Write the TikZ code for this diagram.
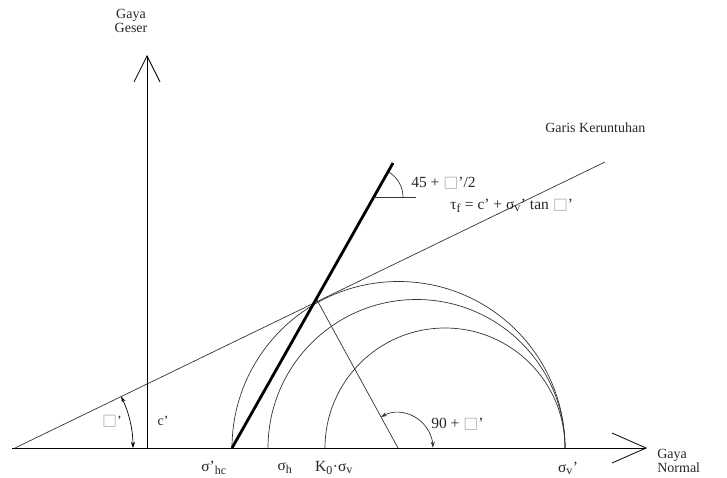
\documentclass[tikz,border=0pt]{standalone}
\usepackage{fontspec}
\setmainfont{Liberation Serif}
\newfontfamily\dvs{DejaVu Sans}
\usetikzlibrary{arrows.meta}
\newcommand{\bx}{{\dvs\color{gray!55}\fontsize{16}{16}\selectfont □}}
\begin{document}
\begin{tikzpicture}[x=1pt,y=-1pt, line width=0.7pt, font=\fontsize{14}{15}\selectfont,
  lbl/.style={inner sep=0pt, text=black!85},
  big/.style={lbl, font=\fontsize{15.5}{16}\selectfont},
  thin/.style={line width=0.7pt, black!80},
  heavy/.style={line width=2.8pt, black},
  ang/.style={line width=0.7pt, {Stealth[length=6pt,width=4pt]}-{Stealth[length=6pt,width=4pt]}}]
\useasboundingbox (0,0) rectangle (727,477);

% axes
\coordinate (O) at (12,448);
\coordinate (Hx) at (647,448);
\coordinate (Vb) at (147,448);
\coordinate (Vt) at (147,55);
\draw[line width=0.8pt, -{Straight Barb[length=34pt,width=30pt,line width=0.8pt]}] (O) -- (Hx);
\draw[line width=0.8pt, -{Straight Barb[length=26pt,width=26pt,line width=0.8pt]}] (Vb) -- (Vt);
\node[lbl, align=center] (gg) at (131,21) {Gaya\\[-1pt]Geser};
\node[lbl, align=left, anchor=west] (gn) at (657,461) {Gaya\\[-1pt]Normal};

% failure line
\coordinate (F0) at (15,448);
\coordinate (F1) at (605,162);
\draw[thin] (F0) -- (F1);
\node[lbl, anchor=west] (gk) at (545,128) {Garis Keruntuhan};

% phi angle at origin
\draw[ang] (133,448) arc[start angle=0, end angle=-25.9, radius=118];
\node[lbl] (phi) at (112,421) {\bx'};
\node[lbl] (c) at (163,421) {c'};

% Mohr circles
\draw[thin] (232,448) arc[start angle=180, end angle=360, radius=166.5];
\draw[thin] (268,448) arc[start angle=180, end angle=360, radius=148.5];
\draw[thin] (325,448) arc[start angle=180, end angle=360, radius=120];

% thick line
\coordinate (P0) at (232,448);
\coordinate (P1) at (393,163);
\draw[heavy] (P0) -- (P1);

% radius line
\coordinate (T) at (317,300);
\coordinate (C) at (398,448);
\draw[thin] (T) -- (C);
\draw[thin, {Stealth[length=6pt,width=4pt]}-{Stealth[length=6pt,width=4pt]}] (381,417) arc[start angle=-118.7, end angle=0, radius=35];
\node[big, anchor=west] (n90) at (431,424) {90 + \bx'};

% top angle
\coordinate (A) at (374,197);
\coordinate (A2) at (416,197);
\draw[thin] (A) -- (A2);
\draw[thin] (403,197) arc[start angle=0, end angle=-60.5, radius=29];
\node[big, anchor=west] (n45) at (411,183) {45 + \bx'/2};
\node[big, anchor=west] (tf) at (450,206) {τ\textsubscript{\fontsize{12}{12}\selectfont f} = c' + σ\textsubscript{\fontsize{12}{12}\selectfont v}' tan \bx'};

% bottom labels
\node[big] (shc) at (214,468) {σ'\textsubscript{\fontsize{12}{12}\selectfont hc}};
\node[big] (sh) at (285,468) {σ\textsubscript{\fontsize{12}{12}\selectfont h}};
\node[big] (kos) at (334,468) {K\textsubscript{\fontsize{12}{12}\selectfont 0}·σ\textsubscript{\fontsize{12}{12}\selectfont v}};
\node[big] (sv) at (568,468) {σ\textsubscript{\fontsize{12}{12}\selectfont v}'};
\end{tikzpicture}
\end{document}
